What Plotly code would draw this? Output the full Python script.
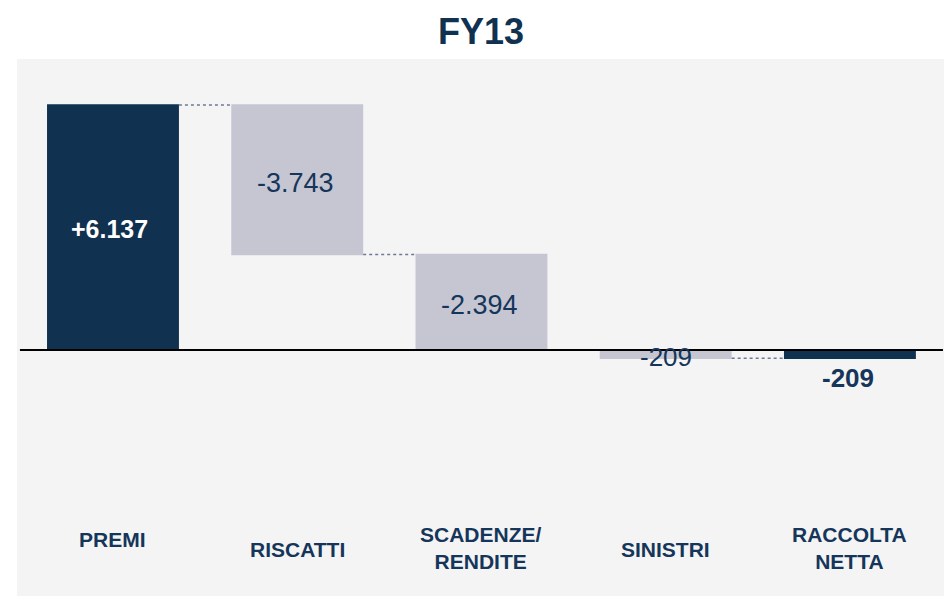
import plotly.graph_objects as go

categories = ["PREMI", "RISCATTI", "SCADENZE/<br>RENDITE", "SINISTRI", "RACCOLTA<br>NETTA"]
values = [6137, -3743, -2394, -209, -209]
measures = ["relative", "relative", "relative", "relative", "total"]
value_labels = ["+6.137", "-3.743", "-2.394", "-209", "-209"]

DARK = "#10314f"
GREY = "#c6c6d3"
TEXT = "#15365a"
FONT = "Liberation Sans, Arial, sans-serif"

fig = go.Figure()
fig.add_trace(go.Waterfall(
    x=list(range(len(categories))),
    y=values,
    measure=measures,
    increasing=dict(marker=dict(color=DARK, line=dict(width=0))),
    decreasing=dict(marker=dict(color=GREY, line=dict(width=0))),
    totals=dict(marker=dict(color=DARK, line=dict(width=0))),
    connector=dict(mode="between", line=dict(color="#6b7a94", width=1.5, dash="dot")),
    hoverinfo="skip",
    showlegend=False,
))

annotations = []
cum = 0
for i, (v, m, lab) in enumerate(zip(values, measures, value_labels)):
    if m == "total":
        lo, hi = min(0, v), max(0, v)
    else:
        lo, hi = min(cum, cum + v), max(cum, cum + v)
        cum += v
    mid = (lo + hi) / 2
    if i == 0:
        annotations.append(dict(x=i, y=mid, text="<b>" + lab + "</b>", showarrow=False,
                                font=dict(family=FONT, size=25, color="white"),
                                xanchor="center", yanchor="middle", xshift=-3, yshift=-2))
    elif i in (1, 2):
        annotations.append(dict(x=i, y=mid, text=lab, showarrow=False,
                                font=dict(family=FONT, size=27, color=TEXT),
                                xanchor="center", yanchor="middle", xshift=-2, yshift=-3))
    elif i == 3:
        annotations.append(dict(x=i, y=mid, text=lab, showarrow=False,
                                font=dict(family=FONT, size=26, color=TEXT),
                                xanchor="center", yanchor="middle", yshift=-3))
    else:
        annotations.append(dict(x=i, y=lo, text="<b>" + lab + "</b>", showarrow=False,
                                font=dict(family=FONT, size=26, color=TEXT),
                                xanchor="center", yanchor="top", xshift=-2, yshift=-3))

cat_y = [0.105, 0.0875, 0.089, 0.0875, 0.089]
for i, c in enumerate(categories):
    annotations.append(dict(x=i, y=cat_y[i], yref="paper", text="<b>" + c + "</b>",
                            showarrow=False, xanchor="center", yanchor="middle",
                            font=dict(family=FONT, size=21, color=TEXT)))

fig.update_layout(
    width=944, height=589,
    margin=dict(l=9, r=0, t=51, b=1),
    paper_bgcolor="white",
    plot_bgcolor="#f4f4f4",
    waterfallgap=0.284,
    title=dict(text="<b>FY13</b>", x=473 / 944, xref="container", xanchor="center",
               y=1 - 23 / 589, yref="container", yanchor="middle",
               font=dict(family=FONT, size=36, color=DARK)),
    xaxis=dict(range=[-0.521, 4.554], showticklabels=False, showgrid=False,
               zeroline=False, showline=False, fixedrange=True),
    yaxis=dict(range=[-6162, 7289], showticklabels=False, showgrid=False,
               zeroline=False, showline=False, fixedrange=True),
    annotations=annotations,
    shapes=[dict(type="line", xref="x", yref="y", x0=-0.505, x1=4.505, y0=0, y1=0,
                 line=dict(color="black", width=2), layer="above")],
)

fig.write_html("out.html")
